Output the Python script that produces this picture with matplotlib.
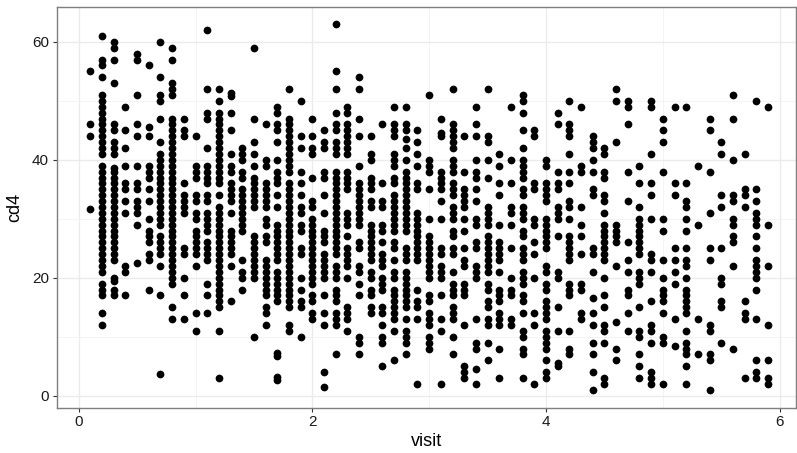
import matplotlib
matplotlib.use("Agg")
from matplotlib import pyplot as plt

# cd4 readings per visit
v01 = [55, 46, 44, 31.7]
v02 = [61, 57, 56, 54, 51, 50, 49, 48, 47, 46, 45, 44, 43, 42, 41, 39, 38, 37, 36, 35, 34, 33, 32, 31, 30, 29, 28, 27, 26, 25, 24, 23, 22, 21, 19, 18, 17, 14, 12]
v03 = [60, 59, 57, 53, 46, 45, 43, 42, 41, 38.6, 38, 37, 36, 35, 34, 33, 32, 31, 30, 29, 28, 27, 26, 25, 24, 23, 20, 19.5, 18, 17]
v04 = [49, 45, 42, 39, 36, 35, 33, 31, 22, 21, 17]
v05 = [58, 57, 51, 46, 44, 39, 36, 35, 33, 32, 31, 29, 22.5]
v06 = [56, 45.5, 44, 39, 38, 37, 35, 33, 30, 28, 27, 26, 24, 23, 18]
v07 = [60, 54, 51, 50, 47, 43, 41, 40, 39, 38, 37, 36, 35, 34, 33, 32, 31, 30, 29, 27, 26, 25, 24, 22, 17, 3.6]
v08 = [59, 57, 53, 52, 51, 47, 46, 45, 44, 43, 42, 41, 40, 39, 38, 37, 36, 35, 34, 33, 32, 31, 30, 29, 28, 27, 26, 25, 24, 23, 22, 21, 20, 19, 15, 13]
v09 = [47, 45, 44, 36, 34, 33, 32, 31, 25, 24, 20, 17, 13]
v10 = [44, 39, 38, 37, 34, 33, 31, 30, 28, 27, 26, 25, 24, 22, 14, 11]
v11 = [62, 52, 48, 47, 42, 39, 38, 37, 36, 34, 33, 31, 30, 29, 28, 26, 25, 24, 23, 19, 17, 14]
v12 = [52, 50, 48, 47, 46, 45, 44, 43, 42, 41, 40, 39, 38, 37, 36, 34, 32, 31, 30, 29, 28, 27, 26, 25, 24, 23, 22, 21, 20, 19, 18, 17, 16, 15, 11, 3]
v13 = [51.3, 50.8, 48, 45, 41, 39, 38, 36, 35, 34, 33, 31, 28, 27, 26, 25, 24, 22, 16]
v14 = [42, 41, 40, 38, 37, 35, 34, 33, 32, 31, 30, 29, 28, 23, 21, 20, 18]
v15 = [59, 47, 43, 41, 39, 37, 36, 35, 34, 33, 32, 27, 26, 25, 24, 23, 22, 21, 20, 10]
v16 = [46, 40, 39, 36, 35, 34, 33, 32, 30, 29, 27, 26, 23, 22, 21, 20, 19, 18, 17, 15, 14, 12]
v17 = [49, 48, 46, 45, 43, 40, 38, 37, 36, 34, 32, 29, 28, 27, 26, 25, 24, 23, 21, 20, 19, 18, 17, 16, 7.3, 6.8, 3.2, 2.6]
v18 = [52, 47, 46, 45, 44, 43, 42, 41, 40, 39, 38, 36, 35, 34, 33, 32, 31, 30, 29, 28, 27, 26, 25, 24, 23, 22, 21, 20, 19, 18, 17, 16, 15, 12, 11]
v19 = [50, 44, 42, 38, 36, 34, 32, 31, 29, 28, 25, 24, 20, 18, 16, 15, 10]
v20 = [47, 44, 42, 41, 37, 33, 32, 30, 29, 28, 27, 26, 25, 24, 23, 22, 21, 20, 19, 17, 16, 14, 13]
v21 = [45, 43, 42, 38, 37, 34, 31, 28, 27, 26, 24, 23, 22, 21, 20, 17, 14, 12, 4, 1.5]
v22 = [63, 55, 52, 48, 46, 45, 43, 42, 41, 38, 37, 36, 35, 34, 33, 32, 31, 30, 29, 28, 27, 26, 25, 24, 22, 21, 20, 18, 17, 16, 14, 13, 12, 7]
v23 = [49, 48, 46, 45, 44, 43, 42, 41, 38, 37, 36, 35, 31, 30, 29, 27, 25, 24, 23, 22, 20, 15, 14, 13, 11]
v24 = [54, 52, 47, 44, 39, 36, 35, 34, 33, 32, 31, 30, 29, 26, 25, 22, 21, 19, 17, 10, 9, 7]
v25 = [44, 41, 40, 37, 36, 35, 33, 32, 29, 28, 27, 26, 25, 24, 23, 21, 20, 18, 17, 15, 14]
v26 = [46, 36, 33, 32, 29, 28, 26, 24, 23, 22, 20, 19, 18, 15, 14, 12, 10, 9, 5]
v27 = [49, 46, 45, 44, 41, 40, 39, 37, 36, 34, 33, 32, 31, 30, 29, 28, 26, 25, 23, 21, 20, 18, 17, 16, 15, 14, 13, 11, 6]
v28 = [49, 46, 45, 43.5, 42, 40, 38, 37, 36, 35, 34, 33, 32, 31, 30, 29, 28, 25, 24, 23, 21, 20, 19, 18, 17, 16, 15, 13, 11, 10, 9, 7]
v29 = [45, 43, 41, 39, 36, 35, 31, 30, 29, 28, 27, 26, 25, 24, 23, 18, 16, 15, 13, 2]
v30 = [51, 40, 39, 38, 35, 30, 27, 26, 25, 24, 23, 22, 21, 20, 17, 16, 14, 13, 12, 10, 9, 8]
v31 = [47, 44.5, 44, 38, 37, 36, 35, 33, 30, 25, 24, 22, 21, 20, 17, 13, 11, 2]
v32 = [52, 46, 45, 44, 43, 42, 40, 39, 38, 36, 35, 34, 32, 31, 30, 28, 27, 25, 24, 21, 19, 18, 17, 15, 14, 13, 10, 7]
v33 = [44, 38, 35, 34, 33, 32, 30, 28, 25, 23, 22, 19, 18, 17, 12, 5, 4, 3]
v34 = [49, 46, 44, 40, 38, 37, 35, 33, 30, 29, 26, 25, 22, 21, 20, 13, 9, 8, 4.6, 2]
v35 = [52, 44, 43, 40, 37, 32, 31, 30, 29, 27, 26, 25, 24, 23, 22, 21, 19, 18, 16, 15, 13, 12, 9, 6]
v36 = [41, 39, 36, 34, 29, 26, 25, 24, 23, 21, 18, 17, 16, 14, 13, 12, 8, 3]
v37 = [49, 40, 36, 32, 31, 29, 25, 20, 18, 17, 13, 12]
v38 = [51, 50, 48, 45, 42, 40, 39, 38, 37, 35, 34, 32, 31, 30, 28, 27, 25, 24, 23, 21, 20, 19, 17, 16, 14, 11, 10, 8, 7, 3]
v39 = [45, 44, 36, 35, 30, 29, 26, 24, 20, 14, 12, 2]
v40 = [40, 39, 36, 35, 34, 33, 30, 29, 28, 27, 26, 25, 22, 21, 19, 18, 16, 15, 14, 13, 11, 10, 9, 8, 6, 4, 3]
v41 = [48, 46, 38, 36, 35, 32, 31, 30, 27, 21, 20, 15, 11, 5.5, 5]
v42 = [50, 46, 45, 44, 41, 38, 36, 33, 32, 30, 27, 26, 25, 24, 23, 19, 18, 17, 11, 8, 7]
v43 = [49, 39, 38, 32, 29, 27, 24, 19, 18, 14, 13]
v44 = [44, 43, 42, 40, 38, 35, 34, 25, 24, 21, 16.5, 14, 12, 9, 7, 4, 1]
v45 = [42, 41, 38, 37, 34, 33, 31, 29, 28, 27, 26, 25, 24, 23, 20, 17, 15, 12, 11, 9, 3, 2]
v46 = [52, 50, 43, 29, 28, 27, 26, 22, 12.5, 8, 6]
v47 = [50, 49, 46, 38, 33, 26, 23, 21, 18, 17, 14, 11]
v48 = [39, 36, 32, 30, 29, 28, 27, 26, 25, 24, 21, 20, 19, 15, 11, 10, 7, 5, 3]
v49 = [50, 49, 41, 36, 34, 30, 24, 23, 21, 16, 12, 11, 9, 4, 3, 2]
v50 = [47, 45, 43, 38, 30, 28, 23, 20, 18, 17, 16, 14, 10, 9, 2]
v51 = [49, 36, 34, 25, 23, 21, 19, 13, 8.5]
v52 = [49, 36, 33, 32, 30, 28, 25, 23, 22, 20, 18, 17, 16, 15, 14, 11, 9, 8, 7, 5, 2]
v53 = [39, 29, 13, 7]
v54 = [47, 45, 38, 31, 25, 23, 12, 11, 7, 6, 1]
v55 = [43, 41, 34, 32, 25, 20, 19, 16, 15, 9]
v56 = [51, 47, 40, 34, 33, 30, 29, 27, 26, 22, 8]
v57 = [41, 35, 34, 32, 16, 14, 13, 3]
v58 = [50, 35, 33, 31, 30, 29, 27, 25, 23, 22, 21, 20, 18, 13, 6, 4, 3]
v59 = [49, 29, 22, 12, 6, 3, 2]

columns = [v01, v02, v03, v04, v05, v06, v07, v08, v09, v10, v11, v12, v13, v14, v15,
           v16, v17, v18, v19, v20, v21, v22, v23, v24, v25, v26, v27, v28, v29, v30,
           v31, v32, v33, v34, v35, v36, v37, v38, v39, v40, v41, v42, v43, v44, v45,
           v46, v47, v48, v49, v50, v51, v52, v53, v54, v55, v56, v57, v58, v59]
visits = [(i + 1) / 10 for i in range(len(columns))]

plt.rcParams['font.family'] = ['Liberation Sans', 'DejaVu Sans']

fig = plt.figure(figsize=(7.97, 4.53), dpi=100)
ax = fig.add_axes([56.5 / 797, 1 - 407.5 / 453, (796 - 56.5) / 797, (407.5 - 6.5) / 453])

for visit, cd4 in zip(visits, columns):
    ax.scatter([visit] * len(cd4), cd4, s=31, c="black", linewidths=0, zorder=3)

ax.set_xlim(-0.19, 6.14)
ax.set_ylim(-2, 66)
ax.set_xticks([0, 2, 4, 6])
ax.set_yticks([0, 20, 40, 60])
ax.set_xticks([1, 3, 5], minor=True)
ax.set_yticks([10, 30, 50], minor=True)
ax.grid(which="major", color="#ebebeb", lw=1.0, zorder=0)
ax.grid(which="minor", color="#f2f2f2", lw=0.6, zorder=0)
ax.set_axisbelow(True)
ax.tick_params(which="major", labelsize=11, length=3, width=0.8, color="#333333", labelcolor="#1a1a1a", pad=2.5)
ax.tick_params(which="minor", length=0)
for s in ax.spines.values():
    s.set_color("#7f7f7f")
    s.set_linewidth(1.0)

ax.set_xlabel("visit", fontsize=13, labelpad=3)
ax.set_ylabel("cd4", fontsize=13, labelpad=6)

fig.savefig("out.png", dpi=100)
